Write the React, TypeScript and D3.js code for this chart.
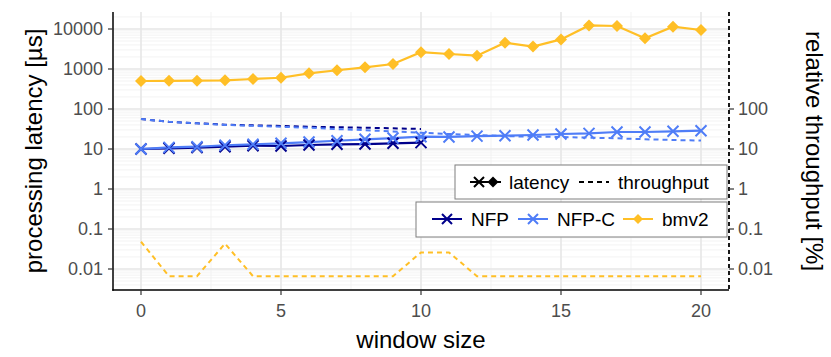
import React from "react";
import * as d3 from "d3";

const windowSizes = [0, 1, 2, 3, 4, 5, 6, 7, 8, 9, 10, 11, 12, 13, 14, 15, 16, 17, 18, 19, 20];
const nfpLatency = [10, 10.4, 10.8, 11.4, 12.1, 11.9, 12.6, 13.1, 13.3, 13.9, 14.4];
const nfpcLatency = [10, 11, 11.4, 12.4, 13.1, 13.9, 14.9, 16.1, 17.5, 18.8, 20.3, 20, 21, 21.5, 22.4, 23.7, 24.6, 26.6, 26.6, 27.7, 28.7];
const bmv2Latency = [501, 505, 510, 520, 562, 604, 780, 930, 1100, 1330, 2630, 2370, 2150, 4550, 3630, 5500, 12300, 11900, 5870, 11400, 9440];
const nfpThroughput = [56, 48, 44, 40.5, 39, 37.6, 36, 35, 34, 33, 31.6];
const nfpcThroughput = [56, 48, 44, 40, 38, 36, 34, 31.5, 29.5, 27.5, 25.5, 23.7, 22.3, 21, 20.3, 20, 19.2, 18.5, 17.5, 16.8, 16.2];
const bmv2Throughput = [0.048, 0.0066, 0.0066, 0.043, 0.0066, 0.0066, 0.0066, 0.0066, 0.0066, 0.0066, 0.026, 0.026, 0.0066, 0.0066, 0.0066, 0.0066, 0.0066, 0.0066, 0.0066, 0.0066, 0.0066];

const xTicks = [0, 5, 10, 15, 20];
const xMinor = [2.5, 7.5, 12.5, 17.5];
const leftTicks = [0.01, 0.1, 1, 10, 100, 1000, 10000];
const leftTickLabels = ["0.01", "0.1", "1", "10", "100", "1000", "10000"];
const rightTicks = [0.01, 0.1, 1, 10, 100];
const rightTickLabels = ["0.01", "0.1", "1", "10", "100"];

const seriesNames = ["NFP", "NFP-C", "bmv2"];
const seriesColors = ["#00008B", "#4F7DF7", "#FFBF26"];
const metricNames = ["latency", "throughput"];

const W = 831, H = 357;
const L = 113, R = 729, T = 12, B = 290;
const FONT = "'Liberation Sans', Arial, Helvetica, sans-serif";

export default function App() {
  const x = d3.scaleLinear().domain([-1, 21]).range([L, R]);
  const y = d3.scaleLog().domain([Math.pow(10, -2.525), Math.pow(10, 4.425)]).range([B, T]);

  const minorY: number[] = [];
  for (let e = -3; e <= 4; e++) {
    for (let k = 2; k <= 9; k++) {
      const v = k * Math.pow(10, e);
      if (y(v) >= T && y(v) <= B) minorY.push(v);
    }
  }

  const line = (vals: number[]) =>
    d3.line<number>().x((_, i) => x(windowSizes[i])).y((d) => y(d))(vals) || "";

  const cross = (cx: number, cy: number, color: string, key: string, s = 5.5) => (
    <path key={key} d={`M${cx - s},${cy - s}L${cx + s},${cy + s}M${cx - s},${cy + s}L${cx + s},${cy - s}`} stroke={color} strokeWidth={2} fill="none" />
  );
  const diamond = (cx: number, cy: number, color: string, key: string, s = 6) => (
    <path key={key} d={`M${cx},${cy - s}L${cx + s},${cy}L${cx},${cy + s}L${cx - s},${cy}Z`} fill={color} />
  );

  const latencies = [nfpLatency, nfpcLatency, bmv2Latency];
  const throughputs = [nfpThroughput, nfpcThroughput, bmv2Throughput];
  const drawOrder = [2, 0, 1];

  return (
    <svg width={W} height={H} style={{ position: "absolute", left: 0, top: 0, background: "#fff" }} fontFamily={FONT}>
      <rect x={0} y={0} width={W} height={H} fill="#fff" />
      {/* grid */}
      <g>
        {minorY.map((v, i) => (
          <line key={"my" + i} x1={L} x2={R} y1={y(v)} y2={y(v)} stroke="#f0f0f0" strokeWidth={0.8} />
        ))}
        {xMinor.map((v, i) => (
          <line key={"mx" + i} x1={x(v)} x2={x(v)} y1={T} y2={B} stroke="#f0f0f0" strokeWidth={0.8} />
        ))}
        {leftTicks.map((v, i) => (
          <line key={"gy" + i} x1={L} x2={R} y1={y(v)} y2={y(v)} stroke="#e6e6e6" strokeWidth={1.6} />
        ))}
        {xTicks.map((v, i) => (
          <line key={"gx" + i} x1={x(v)} x2={x(v)} y1={T} y2={B} stroke="#e6e6e6" strokeWidth={1.6} />
        ))}
      </g>
      {/* throughput dashed lines */}
      <g fill="none" strokeWidth={2} strokeDasharray="5,4">
        {drawOrder.map((s) => (
          <path key={"t" + s} d={line(throughputs[s])} stroke={seriesColors[s]} />
        ))}
      </g>
      {/* latency lines */}
      <g fill="none" strokeWidth={2.2}>
        {drawOrder.map((s) => (
          <path key={"l" + s} d={line(latencies[s])} stroke={seriesColors[s]} />
        ))}
      </g>
      {/* points */}
      <g>
        {bmv2Latency.map((v, i) => diamond(x(windowSizes[i]), y(v), seriesColors[2], "b" + i))}
        {nfpLatency.map((v, i) => cross(x(windowSizes[i]), y(v), seriesColors[0], "n" + i))}
        {nfpcLatency.map((v, i) => cross(x(windowSizes[i]), y(v), seriesColors[1], "c" + i))}
      </g>
      {/* axes */}
      <line x1={L} x2={L} y1={T} y2={B + 0.75} stroke="#000" strokeWidth={1.5} />
      <line x1={L - 0.75} x2={R} y1={B} y2={B} stroke="#000" strokeWidth={1.5} />
      <line x1={R} x2={R} y1={T} y2={B} stroke="#000" strokeWidth={1.8} strokeDasharray="4,3" />
      {leftTicks.map((v, i) => (
        <g key={"lt" + i}>
          <line x1={L - 5} x2={L} y1={y(v)} y2={y(v)} stroke="#333" strokeWidth={1.2} />
          <text x={L - 10} y={y(v)} dy="0.35em" textAnchor="end" fontSize={18} fill="#4d4d4d">{leftTickLabels[i]}</text>
        </g>
      ))}
      {rightTicks.map((v, i) => (
        <g key={"rt" + i}>
          <line x1={R} x2={R + 5} y1={y(v)} y2={y(v)} stroke="#333" strokeWidth={1.2} />
          <text x={R + 9} y={y(v)} dy="0.35em" textAnchor="start" fontSize={18} fill="#4d4d4d">{rightTickLabels[i]}</text>
        </g>
      ))}
      {xTicks.map((v, i) => (
        <g key={"xt" + i}>
          <line x1={x(v)} x2={x(v)} y1={B} y2={B + 5} stroke="#333" strokeWidth={1.2} />
          <text x={x(v)} y={B + 27} textAnchor="middle" fontSize={18} fill="#4d4d4d">{String(v)}</text>
        </g>
      ))}
      {/* axis titles */}
      <text x={421} y={348} textAnchor="middle" fontSize={24} fill="#000">window size</text>
      <text transform={`translate(42,${(T + B) / 2}) rotate(-90)`} textAnchor="middle" fontSize={24} fill="#000">processing latency [µs]</text>
      <text transform={`translate(806,${(T + B) / 2}) rotate(90)`} textAnchor="middle" fontSize={24} fill="#000">relative throughput [%]</text>
      {/* legend 1 */}
      <g>
        <rect x={455} y={165} width={272} height={34} fill="#fff" stroke="#7f7f7f" strokeWidth={1} />
        <line x1={470} x2={501} y1={182} y2={182} stroke="#000" strokeWidth={2} />
        {cross(479, 182, "#000", "lc", 5)}
        {diamond(493, 182, "#000", "ld", 5.5)}
        <text x={509} y={182} dy="0.35em" fontSize={19} fill="#000">{metricNames[0]}</text>
        <line x1={579} x2={609} y1={182} y2={182} stroke="#000" strokeWidth={2} strokeDasharray="5,4" />
        <text x={618} y={182} dy="0.35em" fontSize={19} fill="#000">{metricNames[1]}</text>
      </g>
      {/* legend 2 */}
      <g>
        <rect x={416} y={202} width={311} height={35} fill="#fff" stroke="#7f7f7f" strokeWidth={1} />
        {[432, 518, 623].map((kx, i) => (
          <g key={"lg" + i}>
            <line x1={kx} x2={kx + 30} y1={219} y2={219} stroke={seriesColors[i]} strokeWidth={2} />
            {i < 2 ? cross(kx + 15, 219, seriesColors[i], "lk" + i, 5) : diamond(kx + 15, 219, seriesColors[i], "lk" + i, 5)}
          </g>
        ))}
        <text x={471} y={219} dy="0.35em" fontSize={19} fill="#000">{seriesNames[0]}</text>
        <text x={557} y={219} dy="0.35em" fontSize={19} fill="#000">{seriesNames[1]}</text>
        <text x={662} y={219} dy="0.35em" fontSize={19} fill="#000">{seriesNames[2]}</text>
      </g>
    </svg>
  );
}
